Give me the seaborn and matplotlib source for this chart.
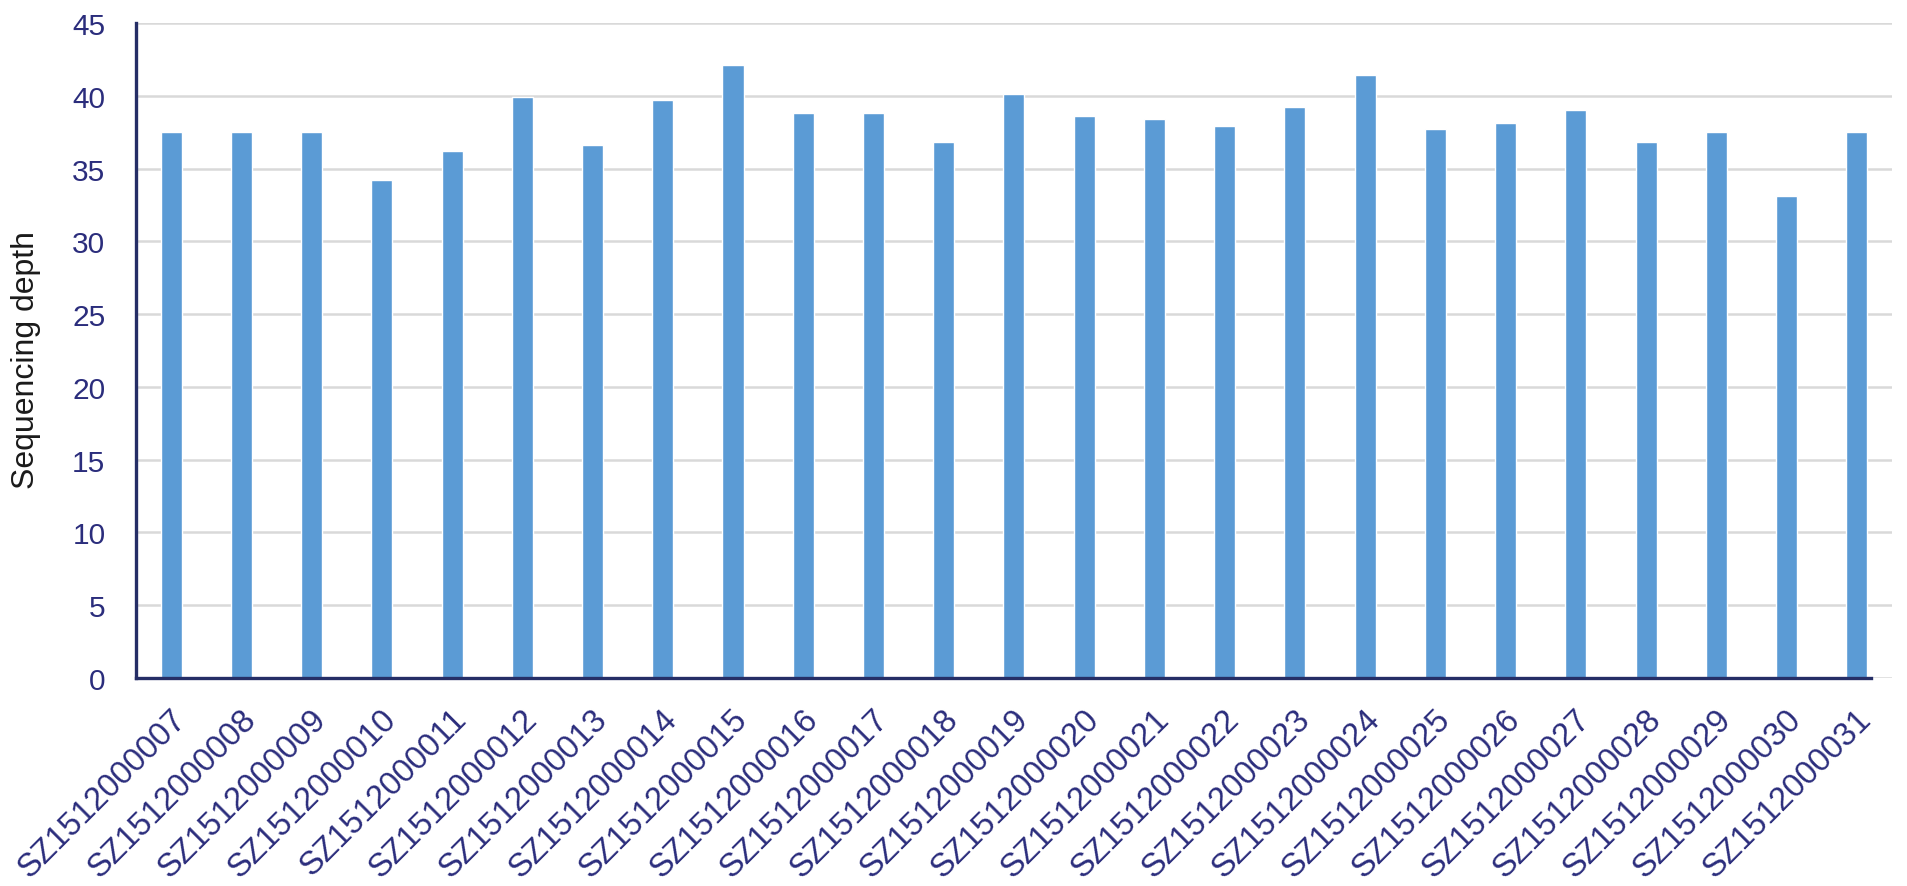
# ============================================
# Sequencing depth per sample - bar chart
# ============================================

import matplotlib
matplotlib.use("Agg")

import matplotlib.pyplot as plt
import matplotlib.transforms as mtransforms
import pandas as pd
import seaborn as sns


# ============================================
# Data
# ============================================

samples = [
    "SZ1512000007", "SZ1512000008", "SZ1512000009", "SZ1512000010",
    "SZ1512000011", "SZ1512000012", "SZ1512000013", "SZ1512000014",
    "SZ1512000015", "SZ1512000016", "SZ1512000017", "SZ1512000018",
    "SZ1512000019", "SZ1512000020", "SZ1512000021", "SZ1512000022",
    "SZ1512000023", "SZ1512000024", "SZ1512000025", "SZ1512000026",
    "SZ1512000027", "SZ1512000028", "SZ1512000029", "SZ1512000030",
    "SZ1512000031",
]

depth = [
    37.5, 37.5, 37.5, 34.2, 36.2, 39.9, 36.6, 39.7,
    42.1, 38.8, 38.8, 36.8, 40.1, 38.6, 38.4, 37.9,
    39.2, 41.4, 37.7, 38.1, 39.0, 36.8, 37.5, 33.1,
    37.5,
]

y_ticks = [0, 5, 10, 15, 20, 25, 30, 35, 40, 45]

df = pd.DataFrame({"Sample": samples, "Depth": depth})


# ============================================
# Style
# ============================================

sns.set_style("white")
plt.rcParams["font.family"] = ["Liberation Sans", "DejaVu Sans"]

bar_color = "#5B9BD5"
navy = "#2B2D7C"
spine_color = "#252E66"
grid_color = "#D9D9D9"


# ============================================
# Plot
# ============================================

fig = plt.figure(figsize=(19.07, 8.87), dpi=100)
ax = fig.add_axes([0.0713, 0.2345, 0.9208, 0.7384])

sns.barplot(
    data=df,
    x="Sample",
    y="Depth",
    color=bar_color,
    width=0.3,
    saturation=1,
    ax=ax,
    zorder=3
)

ax.set_xlim(-0.5, 24.5)
ax.set_ylim(0, 45)
ax.set_yticks(y_ticks)

# Gridlines
ax.yaxis.grid(True, color=grid_color, linewidth=1.8, zorder=0)
ax.set_axisbelow(True)

# Spines
for side in ["top", "right"]:
    ax.spines[side].set_visible(False)

ax.spines["left"].set_color(spine_color)
ax.spines["left"].set_linewidth(2.4)
ax.spines["bottom"].set_color(spine_color)
ax.spines["bottom"].set_linewidth(2.4)
ax.spines["bottom"].set_bounds(-0.5, 24.2)
ax.spines["bottom"].set_zorder(4)

# Ticks
ax.tick_params(axis="y", length=0, pad=22, labelsize=21.5, labelcolor=navy)
ax.tick_params(axis="x", length=0, pad=26, labelsize=23.5, labelcolor=navy)

offset = mtransforms.ScaledTranslation(0.1, 0, fig.dpi_scale_trans)
for label in ax.get_xticklabels():
    label.set_rotation(45)
    label.set_ha("right")
    label.set_va("center")
    label.set_rotation_mode("anchor")
    label.set_transform(label.get_transform() + offset)

# Labels
ax.set_xlabel("")
ax.set_ylabel("")
fig.text(
    26 / 1907,
    1 - 360 / 887,
    "Sequencing depth",
    rotation=90,
    ha="center",
    va="center",
    fontsize=23,
    color="#1A1A1A"
)

plt.savefig("out.png", dpi=100)
